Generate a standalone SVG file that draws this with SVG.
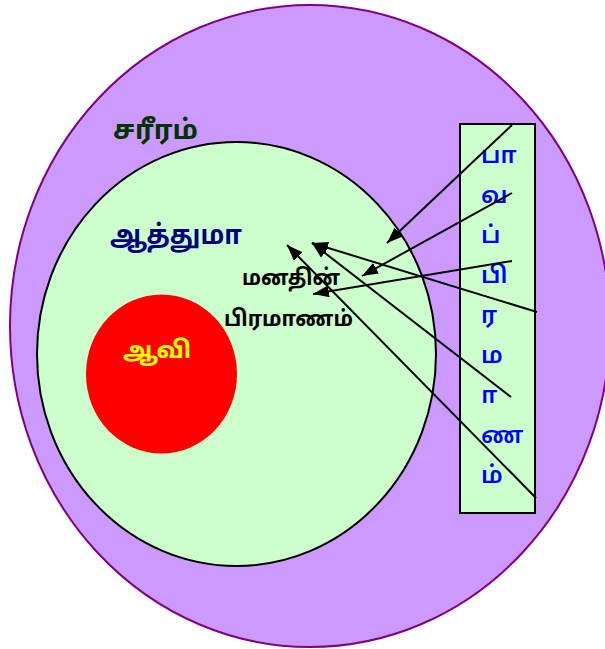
<svg xmlns="http://www.w3.org/2000/svg" width="605" height="649" viewBox="0 0 605 649">
<defs>
<style>
text { font-family: "Noto Sans Tamil", "Lohit Tamil", "Noto Sans", "DejaVu Sans", sans-serif; font-weight: bold; }
.arrow { stroke: #000; stroke-width: 2; fill: none; marker-end: url(#ah); }
.v { fill: #0000FF; font-size: 24px; font-weight: 600; }
</style>
<marker id="ah" markerUnits="userSpaceOnUse" markerWidth="16" markerHeight="12" refX="16" refY="6" orient="auto">
<path d="M0,0 L16,6 L0,12 z" fill="#000"/>
</marker>
</defs>
<g id="body">
<ellipse cx="310" cy="326" rx="300" ry="321" fill="#CC99FF" stroke="#800080" stroke-width="2"/>
<text x="113" y="139" font-size="27" fill="#003300" textLength="85" lengthAdjust="spacingAndGlyphs">சரீரம்</text>
</g>
<g id="soul">
<ellipse cx="236.5" cy="354" rx="199.5" ry="212" fill="#CCFFCC" stroke="#000" stroke-width="2"/>
<text x="110" y="244" font-size="27" fill="#000080" textLength="132" lengthAdjust="spacingAndGlyphs">ஆத்துமா</text>
</g>
<g id="spirit">
<ellipse cx="161.5" cy="374" rx="75.5" ry="79.5" fill="#FF0000"/>
<text x="123" y="358" font-size="24" fill="#FFFF00">ஆவி</text>
</g>
<g id="mind">
<text x="242" y="285" font-size="22" fill="#000" textLength="98" lengthAdjust="spacingAndGlyphs">மனதின்</text>
<text x="224" y="326" font-size="22" fill="#000" textLength="129" lengthAdjust="spacingAndGlyphs">பிரமாணம்</text>
</g>
<g id="sinlaw">
<rect x="460" y="124" width="75" height="389" fill="#CCFFCC" stroke="#000" stroke-width="2"/>
<text class="v" x="481" y="163">பா</text>
<text class="v" x="481" y="203">வ</text>
<text class="v" x="481" y="243">ப்</text>
<text class="v" x="481" y="283">பி</text>
<text class="v" x="481" y="323">ர</text>
<text class="v" x="481" y="363">ம</text>
<text class="v" x="475" y="403">&#160;ா</text>
<text class="v" x="481" y="443">ண</text>
<text class="v" x="481" y="483">ம்</text>
</g>
<g id="connectors">
<line class="arrow" x1="512" y1="125" x2="387" y2="243"/>
<line class="arrow" x1="512" y1="193" x2="362" y2="276"/>
<line class="arrow" x1="512" y1="261" x2="313" y2="294"/>
<line class="arrow" x1="537" y1="312" x2="312" y2="243"/>
<line class="arrow" x1="511" y1="397" x2="312" y2="243"/>
<line class="arrow" x1="536" y1="498" x2="287" y2="245"/>
</g>
</svg>
